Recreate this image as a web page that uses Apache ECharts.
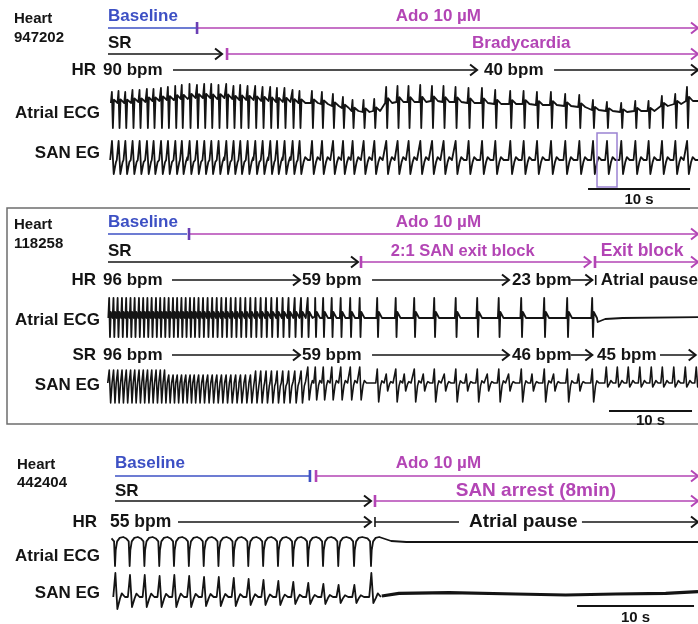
<!DOCTYPE html>
<html>
<head>
<meta charset="utf-8">
<script src="https://cdn.jsdelivr.net/npm/echarts@6/dist/echarts.min.js"></script>
<style>
html, body { margin: 0; padding: 0; background: #fff; }
#chart { width: 698px; height: 624px; }
</style>
</head>
<body>
<div id="chart"></div>
<script>
// ---------- data (times in seconds, amplitudes in a.u. relative to the trace row) ----------

// heart 947202
var p1Drug = [[0, 8.63], [8.73, 57.84]];              // Baseline | Ado 10 µM
var p1DrugText = [[0, 'Baseline'], [28.2, 'Ado 10 µM']];
var p1Rhythm = [[0, 11.18], [11.67, 57.84]];          // SR | Bradycardia
var p1RhythmText = [[0, 'SR'], [35.69, 'Bradycardia']];
var p1HR = [[6.37, 36.18], [43.73, 57.84]];
var p1HRText = [[-0.49, '90 bpm'], [36.86, '40 bpm']];
var p1Beats = [0.36, 1.01, 1.67, 2.38, 3.07, 3.79, 4.44, 5.17, 5.85, 6.57, 7.21, 7.97, 8.70, 9.41,
    10.10, 10.81, 11.57, 12.28, 12.94, 13.66, 14.41, 15.13, 15.88, 16.54, 17.28, 18.07, 18.75, 19.97,
    20.95, 22.03, 23.01, 23.95, 25.03, 26.08, 27.25, 28.36, 29.44, 30.59, 31.74, 32.87, 34.05, 35.32,
    36.64, 37.94, 39.41, 40.72, 42.03, 43.40, 44.80, 46.18, 47.52, 48.89, 50.29, 51.67, 52.97, 54.28,
    55.59, 56.74];
var p1AtrialBase = [0, 0, 0, 1, 1, 2, 2, 3, 3, 4, 4, 5, 5, 5, 4, 5, 4, 3, 3, 3, 2, 2, 1, 1, 1, 0, 0, 0,
    -1, -3, -5, -8, -9, -8, 0, 1, 1, 1, 2, 1, 1, 0, 0, -1, -1, -1, -2, -2, -3, -4, -7, -8, -9, -8, -8,
    -3, -1, 2];
var p1AtrialPeak = [11, 12, 11, 13, 13, 14, 14, 15, 16, 17, 18, 19, 18, 19, 19, 18, 19, 17, 18, 17, 17,
    16, 16, 15, 15, 13, 12, 12, 11, 9, 6, 3, 3, 4, 16, 17, 17, 18, 17, 17, 16, 15, 15, 13, 12, 12, 11,
    11, 9, 8, 3, 1, 0, 2, 2, 7, 9, 16];
var p1AtrialTrough = -25;
var p1SanPeak = 19;
var p1SanTrough = -14;
var p1Scale = [47.06, 57.06];
var p1Window = [47.94, 49.90];

// heart 118258
var p2Drug = [[0, 9.52], [9.76, 71.08]];
var p2DrugText = [[0, 'Baseline'], [34.66, 'Ado 10 µM']];
var p2Rhythm = [[0, 30.12], [30.48, 58.16], [58.67, 71.08]];
var p2RhythmText = [[0, 'SR'], [34.06, '2:1 SAN exit block'], [59.36, 'Exit block']];
var p2HR = [[7.71, 23.13], [31.81, 48.31], [55.75, 58.35]];
var p2HRText = [[-0.6, '96 bpm'], [23.37, '59 bpm'], [48.67, '23 bpm'], [59.36, 'Atrial pause']];
var p2PauseMark = 58.76;
var p2SR = [[7.71, 23.13], [31.81, 48.31], [55.75, 58.35], [66.5, 70.8]];
var p2SRText = [[-0.6, '96 bpm'], [23.37, '59 bpm'], [48.67, '46 bpm'], [58.92, '45 bpm']];
var p2SinusBeats = [0.12, 0.64, 1.14, 1.66, 2.17, 2.69, 3.19, 3.71, 4.22, 4.73, 5.24, 5.76, 6.27,
    6.78, 7.29, 7.81, 8.31, 8.83, 9.34, 9.86, 10.36, 10.89, 11.43, 11.98, 12.53, 13.08, 13.64, 14.20,
    14.77, 15.35, 15.93, 16.53, 17.13, 17.75, 18.37, 19.01, 19.66, 20.34, 21.02, 21.73, 22.47, 23.23,
    24.04, 24.94, 25.90, 26.93, 28.01, 29.16, 30.30];
var p2AtrialBlockBeats = [32.41, 34.64, 36.87, 39.28, 41.87, 44.46, 47.05, 49.76, 52.53, 55.30, 58.31];
var p2AtrialPeak = 20;
var p2AtrialTrough = -19;
var p2AtrialTail = [[59.0, -4], [59.9, -1], [62, 0], [71.08, 0.8]];
var p2SanSinusPeak = [13, 13, 13, 13, 13, 13, 13, 13, 13, 13, 13, 13, 13, 13,
    8, 8, 8, 8, 8, 8, 8, 8, 8, 8, 8, 8, 8, 8, 8, 8, 8, 8, 8,
    12, 12, 12, 12, 12, 12, 12, 12, 12,
    16, 16, 16, 16, 16, 16, 16];
var p2SanSinusTrough = [-20, -20, -20, -20, -20, -20, -20, -20, -20, -20, -20, -20, -20, -20,
    -20, -20, -20, -20, -20, -20, -20, -20, -20, -20, -20, -20, -20, -20, -20, -20, -20, -20, -20,
    -20, -20, -20, -20, -20, -20, -20, -20, -20,
    -17, -17, -17, -17, -17, -17, -17];
var p2SanBlockBeats = [32.41, 33.49, 34.64, 35.66, 36.87, 37.95, 39.28, 40.48, 41.87, 43.13, 44.46,
    45.66, 47.05, 48.23, 49.76, 51.05, 52.53, 53.65, 55.30, 56.66, 58.31];
var p2SanBlockPeak = [14, 9, 14, 9, 14, 9, 14, 9, 14, 9, 14, 9, 14, 9, 14, 9, 14, 9, 14, 9, 14];
var p2SanBlockTrough = [-19, -8, -19, -8, -19, -8, -19, -8, -19, -8, -19, -8, -19, -8, -19, -8, -19,
    -8, -19, -8, -19];
var p2SanLateBeats = [60.00, 61.33, 62.65, 64.04, 65.42, 66.75, 68.13, 69.52, 70.84];
var p2SanLatePeak = [16, 16, 16, 16, 16, 16, 16, 16, 16];
var p2SanLateTrough = [-4, -4, -4, -4, -4, -4, -4, -4, -4];
var p2Scale = [60.36, 70.36];

// heart 442404
var p3Drug = [[0.6, 17.26], [17.78, 50.43]];
var p3DrugText = [[0.6, 'Baseline'], [24.59, 'Ado 10 µM']];
var p3Rhythm = [[0.6, 22.48], [22.82, 50.43]];
var p3RhythmText = [[0.6, 'SR'], [29.72, 'SAN arrest (8min)']];
var p3HR = [[5.98, 22.48], [22.82, 30.0], [40.51, 50.43]];
var p3HRText = [[0.17, '55 bpm'], [30.85, 'Atrial pause']];
var p3Beats = [0.60, 1.85, 3.11, 4.38, 5.64, 6.91, 8.18, 9.44, 10.72, 11.99, 13.26, 14.53, 15.81,
    17.09, 18.38, 19.68, 21.03, 22.48];
var p3AtrialTrough = -29;
var p3AtrialTail = [[23.2, -1], [24.2, -4], [25.5, -5], [50.43, -5]];
var p3SanPeak = [24, 22, 22, 21, 22, 21, 20, 20, 19, 18, 17, 16, 15, 14, 13, 12, 12, 24];
var p3SanTrough = [-12, -10, -10, -10, -10, -10, -9, -9, -9, -8, -8, -8, -7, -7, -7, -6, -6, -6];
var p3SanArrest = [[23.4, 1], [24.87, 3.7], [29.15, 4.3], [34.85, 3], [39.12, 2], [43.4, 3],
    [47.67, 3.7], [50.43, 5.3]];
var p3Scale = [40.09, 50.09];

// single-beat waveforms: [offset s, level] ; level>0 toward peak, level<0 toward trough
var ecgShape = [[-0.08, 0], [-0.02, 0.08], [0.02, 1], [0.12, -1], [0.22, 0.3], [0.35, 0.2], [0.6, 0]];
var sanShape = [[-0.15, 0], [0.03, 1], [0.2, -1], [0.42, -0.15], [0.58, 0.15], [0.85, 0]];
var arcShape = [[-0.3, -0.05], [-0.08, -0.15], [0, -1], [0.06, -0.45], [0.18, -0.15], [0.4, -0.03], [0.7, 0]];

// ---------- layout ----------
var BLUE = '#3d50c4', MAGENTA = '#b345b5', PURPLE = '#6b3fb4', INK = '#141414', BOXC = '#9b82d2';
var FAMILY = '"Liberation Sans", Arial, sans-serif';
var xMax = [57.84, 71.08, 50.43];
var ROW = [
    {drugTxt: 16, drug: 28, rhyTxt: 43, rhy: 54, hr: 70, atrial: 103, san: 160, bar: 189, barTxt: 200},
    {drugTxt: 222, drug: 234, rhyTxt: 251, rhy: 262, hr: 280, atrial: 318, sr: 355, san: 383, bar: 411, barTxt: 421},
    {drugTxt: 463, drug: 476, rhyTxt: 491, rhy: 501, hr: 522, atrial: 537, san: 597, bar: 606, barTxt: 618}
];

function pick(v, i) {
    return Array.isArray(v) ? v[i] : v;
}

// trace points from beat times + one-beat template
function beatLine(times, peak, trough, base, shape, row, tEnd) {
    var pts = [];
    var last = -Infinity;
    for (var i = 0; i < times.length; i++) {
        var b = pick(base, i), pk = pick(peak, i), tr = pick(trough, i);
        var stop = i + 1 < times.length ? times[i + 1] + shape[0][0] : Infinity;
        for (var j = 0; j < shape.length; j++) {
            var t = times[i] + shape[j][0];
            if (t >= stop) break;
            if (t <= last) continue;
            var a = shape[j][1];
            var v = a >= 0 ? b + a * (pk - b) : b - a * (tr - b);
            pts.push([t, row - v]);
            last = t;
        }
    }
    if (tEnd != null) pts.push([tEnd, row - pick(base, times.length - 1)]);
    return pts;
}

function tailLine(tail, row) {
    return tail.map(function (d) { return [d[0], row - d[1]]; });
}

// annotation items per panel
var annots = [[], [], []];

function spanRow(p, spans, y, colors, heads, startTicks, endTicks) {
    spans.forEach(function (s, i) {
        annots[p].push({kind: 'seg', t0: s[0], t1: s[1], y: y, color: colors[i], head: heads[i]});
        if (startTicks && startTicks[i]) annots[p].push({kind: 'tick', t0: s[0], y: y, color: startTicks[i]});
        if (endTicks && endTicks[i]) annots[p].push({kind: 'tick', t0: s[1], y: y, color: endTicks[i]});
    });
}

function textRow(p, labels, y, colors, sizes) {
    labels.forEach(function (l, i) {
        annots[p].push({kind: 'text', t0: l[0], y: y, str: l[1], color: colors[i] || colors[0],
            size: (sizes && sizes[i]) || 17});
    });
}

function scaleBar(p, bar, y, ty) {
    annots[p].push({kind: 'seg', t0: bar[0], t1: bar[1], y: y, color: INK, head: false, w: 2});
    annots[p].push({kind: 'text', t0: (bar[0] + bar[1]) / 2, y: ty, str: '10 s', color: INK, size: 15, align: 'center'});
}

// panel 1
var R = ROW[0];
spanRow(0, p1Drug, R.drug, [BLUE, MAGENTA], [false, true], [null, PURPLE]);
textRow(0, p1DrugText, R.drugTxt, [BLUE, MAGENTA]);
spanRow(0, p1Rhythm, R.rhy, [INK, MAGENTA], [true, true], [null, MAGENTA]);
textRow(0, p1RhythmText, R.rhyTxt, [INK, MAGENTA]);
spanRow(0, p1HR, R.hr, [INK, INK], [true, true]);
textRow(0, p1HRText, R.hr, [INK]);
scaleBar(0, p1Scale, R.bar, R.barTxt);
annots[0].push({kind: 'box', t0: p1Window[0], t1: p1Window[1], y: 133, y1: 187});

// panel 2
R = ROW[1];
spanRow(1, p2Drug, R.drug, [BLUE, MAGENTA], [false, true], [null, PURPLE]);
textRow(1, p2DrugText, R.drugTxt, [BLUE, MAGENTA]);
spanRow(1, p2Rhythm, R.rhy, [INK, MAGENTA, MAGENTA], [true, true, true], [null, MAGENTA, MAGENTA]);
textRow(1, p2RhythmText, R.rhyTxt, [INK, MAGENTA, MAGENTA], [17, 16.5, 17.5]);
spanRow(1, p2HR, R.hr, [INK, INK, INK], [true, true, true]);
annots[1].push({kind: 'tick', t0: p2PauseMark, y: R.hr, color: INK});
textRow(1, p2HRText, R.hr, [INK]);
spanRow(1, p2SR, R.sr, [INK, INK, INK, INK], [true, true, true, true]);
textRow(1, p2SRText, R.sr, [INK]);
scaleBar(1, p2Scale, R.bar, R.barTxt);

// panel 3
R = ROW[2];
spanRow(2, p3Drug, R.drug, [BLUE, MAGENTA], [false, true], [null, MAGENTA], [BLUE, null]);
textRow(2, p3DrugText, R.drugTxt, [BLUE, MAGENTA]);
spanRow(2, p3Rhythm, R.rhy, [INK, MAGENTA], [true, true], [null, MAGENTA]);
textRow(2, p3RhythmText, R.rhyTxt, [INK, MAGENTA], [17, 19]);
spanRow(2, p3HR, R.hr, [INK, INK, INK], [true, false, true], [null, INK, null]);
textRow(2, p3HRText, R.hr, [INK], [17.5, 19]);
scaleBar(2, p3Scale, R.bar, R.barTxt);

function makeRender(p) {
    return function (params, api) {
        var a = annots[p][params.dataIndex];
        var s = api.coord([a.t0, a.y]);
        var e;
        if (a.kind === 'text') {
            return {
                type: 'text', x: s[0], y: s[1],
                style: {text: a.str, fill: a.color, font: 'bold ' + a.size + 'px ' + FAMILY,
                    textAlign: a.align || 'left', textVerticalAlign: 'middle'}
            };
        }
        if (a.kind === 'tick') {
            var h = a.color === INK ? 5 : 6;
            return {
                type: 'line', shape: {x1: s[0], y1: s[1] - h, x2: s[0], y2: s[1] + h},
                style: {stroke: a.color, lineWidth: a.color === INK ? 1.6 : 2.6}
            };
        }
        if (a.kind === 'box') {
            e = api.coord([a.t1, a.y1]);
            return {
                type: 'rect', shape: {x: s[0], y: s[1], width: e[0] - s[0], height: e[1] - s[1]},
                style: {stroke: BOXC, fill: 'none', lineWidth: 1.5}
            };
        }
        e = api.coord([a.t1, a.y]);
        var kids = [{
            type: 'line', shape: {x1: s[0], y1: s[1], x2: e[0], y2: e[1]},
            style: {stroke: a.color, lineWidth: a.w || 1.6}
        }];
        if (a.head) {
            kids.push({
                type: 'polyline',
                shape: {points: [[e[0] - 7, e[1] - 5.5], [e[0], e[1]], [e[0] - 7, e[1] + 5.5]]},
                style: {stroke: a.color, lineWidth: 2, fill: 'none'}
            });
        }
        return {type: 'group', children: kids};
    };
}

function traceSeries(p, pts, width) {
    return {
        type: 'line', xAxisIndex: p, yAxisIndex: p, data: pts,
        showSymbol: false, symbol: 'none', sampling: null, silent: true, animation: false, z: 2,
        lineStyle: {color: INK, width: width || 1.8, join: 'round'}
    };
}

var series = [];
// panel 1 traces
series.push(traceSeries(0, beatLine(p1Beats, p1AtrialPeak, p1AtrialTrough, p1AtrialBase, ecgShape,
    ROW[0].atrial, xMax[0])));
series.push(traceSeries(0, beatLine(p1Beats, p1SanPeak, p1SanTrough, 0, sanShape, ROW[0].san, xMax[0])));
// panel 2 traces
series.push(traceSeries(1, beatLine(p2SinusBeats.concat(p2AtrialBlockBeats), p2AtrialPeak, p2AtrialTrough, 0,
    ecgShape, ROW[1].atrial).concat(tailLine(p2AtrialTail, ROW[1].atrial))));
series.push(traceSeries(1, beatLine(p2SinusBeats.concat(p2SanBlockBeats, p2SanLateBeats),
    p2SanSinusPeak.concat(p2SanBlockPeak, p2SanLatePeak),
    p2SanSinusTrough.concat(p2SanBlockTrough, p2SanLateTrough), 0, sanShape, ROW[1].san, xMax[1]), 1.6));
// panel 3 traces
series.push(traceSeries(2, beatLine(p3Beats, 0, p3AtrialTrough, 0, arcShape, ROW[2].atrial)
    .concat(tailLine(p3AtrialTail, ROW[2].atrial))));
series.push(traceSeries(2, beatLine(p3Beats, p3SanPeak, p3SanTrough, 0, sanShape, ROW[2].san)));
series.push(traceSeries(2, tailLine(p3SanArrest, ROW[2].san), 3.2));

// annotations
[0, 1, 2].forEach(function (p) {
    series.push({
        type: 'custom', xAxisIndex: p, yAxisIndex: p, clip: false, silent: true, animation: false, z: 3,
        renderItem: makeRender(p),
        encode: {x: 0, y: 1},
        data: annots[p].map(function (a) { return [a.t0, a.y]; })
    });
});

function leftText(x, y, str, align, size) {
    return {
        type: 'text', x: x, y: y, silent: true,
        style: {text: str, fill: INK, font: 'bold ' + (size || 17) + 'px ' + FAMILY,
            textAlign: align, textVerticalAlign: 'middle'}
    };
}

var option = {
    animation: false,
    backgroundColor: '#ffffff',
    grid: [0, 1, 2].map(function () { return {left: 108, right: 0, top: 0, bottom: 0}; }),
    xAxis: [0, 1, 2].map(function (p) {
        return {gridIndex: p, type: 'value', min: 0, max: xMax[p], show: false};
    }),
    yAxis: [0, 1, 2].map(function (p) {
        return {gridIndex: p, type: 'value', min: 0, max: 624, inverse: true, show: false};
    }),
    graphic: [
        {type: 'rect', shape: {x: 7, y: 208, width: 700, height: 216}, silent: true,
            style: {stroke: '#6e6e6e', fill: 'none', lineWidth: 1.5}},
        leftText(14, 19, 'Heart', 'left', 15),
        leftText(14, 38, '947202', 'left', 15),
        leftText(96, 70, 'HR', 'right'),
        leftText(100, 113, 'Atrial ECG', 'right'),
        leftText(100, 153, 'SAN EG', 'right'),
        leftText(14, 225, 'Heart', 'left', 15),
        leftText(14, 244, '118258', 'left', 15),
        leftText(96, 280, 'HR', 'right'),
        leftText(100, 320, 'Atrial ECG', 'right'),
        leftText(96, 355, 'SR', 'right'),
        leftText(100, 385, 'SAN EG', 'right'),
        leftText(17, 465, 'Heart', 'left', 15),
        leftText(17, 483, '442404', 'left', 15),
        leftText(97, 522, 'HR', 'right'),
        leftText(100, 556, 'Atrial ECG', 'right'),
        leftText(100, 593, 'SAN EG', 'right')
    ],
    series: series
};

var myChart = echarts.init(document.getElementById('chart'));
myChart.setOption(option);
</script>
</body>
</html>
